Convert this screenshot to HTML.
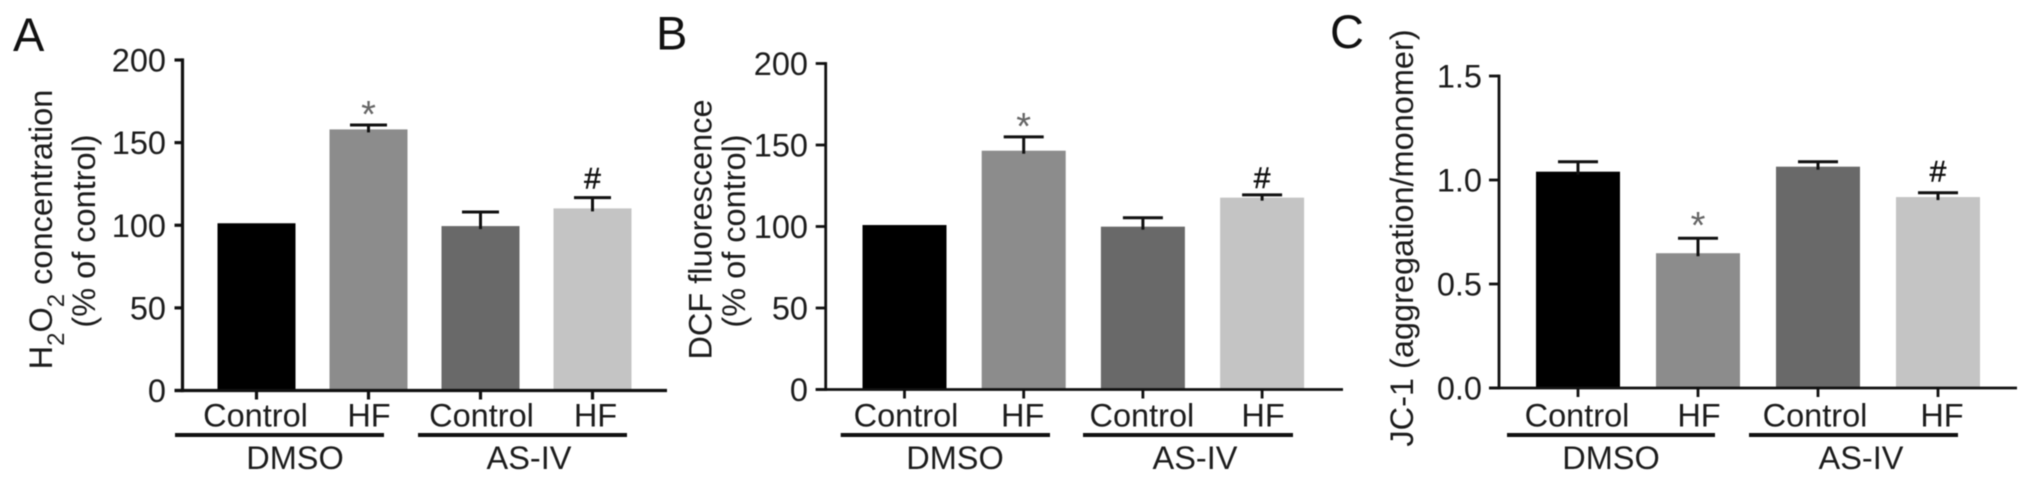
<!DOCTYPE html>
<html lang="en">
<head>
<meta charset="utf-8">
<title>H2O2, DCF fluorescence and JC-1 bar charts</title>
<style>
html,body{margin:0;padding:0;background:#fff;width:2032px;height:482px;overflow:hidden}
svg{display:block;filter:blur(0.55px)}
text{font-family:"Liberation Sans",Arial,sans-serif;fill:#1c1c1c}
.t{font-size:32.5px;text-anchor:middle}
.l{font-size:47px;fill:#111}
.s{font-size:24px}
</style>
</head>
<body>
<svg id="fig" xmlns="http://www.w3.org/2000/svg" width="2032" height="482" viewBox="0 0 2032 482">
  <rect width="2032" height="482" fill="#fff"/>
  <text class="l" x="13" y="51">A</text>
  <text class="l" x="656" y="49.5">B</text>
  <text class="l" x="1330" y="48">C</text>

  <text class="t" transform="translate(52 229.5) rotate(-90)">H<tspan class="s" dy="12">2</tspan><tspan dy="-12">O</tspan><tspan class="s" dy="12">2</tspan><tspan dy="-12"> concentration</tspan></text>
  <text class="t" transform="translate(95 231) rotate(-90)">(% of control)</text>
  <text class="t" transform="translate(711.5 229.5) rotate(-90)">DCF fluorescence</text>
  <text class="t" transform="translate(745 231) rotate(-90)">(% of control)</text>
  <text class="t" transform="translate(1413 238) rotate(-90)">JC-1 (aggregation/monomer)</text>

  <text class="t" x="295" y="469">DMSO</text>
  <text class="t" x="529" y="469">AS-IV</text>
  <text class="t" x="955" y="469">DMSO</text>
  <text class="t" x="1195" y="469">AS-IV</text>
  <text class="t" x="1611" y="469">DMSO</text>
  <text class="t" x="1861" y="469">AS-IV</text>
</svg>
<script>
// Chart data
var categories = ["Control", "HF", "Control", "HF"];
var barColors = ["#000000", "#8c8c8c", "#696969", "#c4c4c4"];

var ticksA = [0, 50, 100, 150, 200];
var tickLabelsA = ["0", "50", "100", "150", "200"];
var meansA = [101.2, 158, 99.5, 110.2];
var errorsA = [0, 2.7, 8.5, 6.5];
var marksA = ["", "*", "", "#"];

var ticksB = [0, 50, 100, 150, 200];
var tickLabelsB = ["0", "50", "100", "150", "200"];
var meansB = [100.9, 146.5, 99.9, 117.7];
var errorsB = [0, 8.5, 5.5, 1.7];
var marksB = ["", "*", "", "#"];

var ticksC = [0, 0.5, 1, 1.5];
var tickLabelsC = ["0.0", "0.5", "1.0", "1.5"];
var meansC = [1.04, 0.648, 1.064, 0.918];
var errorsC = [0.048, 0.072, 0.024, 0.021];
var marksC = ["", "*", "", "#"];

var NS = "http://www.w3.org/2000/svg";
var svg = document.getElementById("fig");

function make(tag, attrs, parent) {
  var node = document.createElementNS(NS, tag);
  for (var k in attrs) node.setAttribute(k, attrs[k]);
  parent.appendChild(node);
  return node;
}

function drawPanel(id, p, ticks, tickLabels, means, errors, marks) {
  var yScale = function (v) { return p.y0 + (p.y1 - p.y0) * (v - p.min) / (p.max - p.min); };
  var xScale = function (i) { return p.x0 + i * p.step; };

  var g = make("g", {}, svg);
  
  

  means.forEach(function (m, i) {
    var c = xScale(i);
    var top = yScale(m);
    var bar = make("rect", { x: c - p.barW / 2, y: top, width: p.barW, height: p.y0 - top, fill: barColors[i] }, g);
    
    

    if (errors[i] > 0) {
      var capY = yScale(m + errors[i]);
      var stem = make("line", { x1: c, x2: c, y1: capY, y2: top + 3, stroke: "#111", "stroke-width": 3 }, g);
      
      
      var cap = make("line", { x1: c - p.capW / 2, x2: c + p.capW / 2, y1: capY, y2: capY, stroke: "#111", "stroke-width": 3 }, g);
      
      
    }

    if (marks[i]) {
      var barTopY = yScale(m + errors[i]);
      var isStar = marks[i] === "*";
      var mark = make("text", {
        x: c,
        y: barTopY + (isStar ? p.starDy : p.hashDy),
        "text-anchor": "middle",
        style: isStar ? "font-size:38px;fill:#666" : "font-size:30px;fill:#111;stroke:#111;stroke-width:0.5px"
      }, g);
      mark.textContent = marks[i];
      
      
    }

    var tick = make("line", { x1: c, x2: c, y1: p.y0, y2: p.y0 + 9, stroke: "#111", "stroke-width": p.sw }, g);
    
    

    var lab = make("text", { x: c + p.nudge[i], y: 426.5, "class": "t" }, g);
    lab.textContent = categories[i];
    
    
  });

  var yAxis = make("line", { x1: p.ax, x2: p.ax, y1: p.y1 - p.sw / 2, y2: p.y0 + p.sw / 2, stroke: "#111", "stroke-width": p.sw }, g);
  
  

  var xAxis = make("line", { x1: p.ax - p.tickL, x2: p.xEnd, y1: p.y0, y2: p.y0, stroke: "#111", "stroke-width": p.sw }, g);
  
  

  ticks.forEach(function (t, i) {
    var y = yScale(t);
    var yt = make("line", { x1: p.ax - p.tickL, x2: p.ax, y1: y, y2: y, stroke: "#111", "stroke-width": p.sw }, g);
    
    
    var tl = make("text", { x: p.labelX, y: y + 11.5, "text-anchor": "end", style: "font-size:32.5px" }, g);
    tl.textContent = tickLabels[i];
    
    
  });

  var b1 = make("line", { x1: p.g1[0], x2: p.g1[1], y1: 435, y2: 435, stroke: "#111", "stroke-width": 4 }, g);
  
  
  var b2 = make("line", { x1: p.g2[0], x2: p.g2[1], y1: 435, y2: 435, stroke: "#111", "stroke-width": 4 }, g);
  
  
}

drawPanel("a", {
  ax: 182.5, y0: 390.5, y1: 60, min: 0, max: 200, x0: 256.5, step: 112, barW: 78, capW: 37, sw: 3.2, tickL: 8,
  xEnd: 667, labelX: 166, starDy: 2, hashDy: -9, nudge: [-1, 0.5, 1, 3], g1: [175, 384], g2: [418, 627]
}, ticksA, tickLabelsA, meansA, errorsA, marksA);

drawPanel("b", {
  ax: 825.7, y0: 389.5, y1: 63.5, min: 0, max: 200, x0: 904.5, step: 119.2, barW: 84, capW: 40, sw: 2.8, tickL: 10,
  xEnd: 1343, labelX: 808, starDy: 2, hashDy: -7, nudge: [1.5, -1, -1, 1], g1: [840.7, 1050], g2: [1083, 1293]
}, ticksB, tickLabelsB, meansB, errorsB, marksB);

drawPanel("c", {
  ax: 1499, y0: 388, y1: 76, min: 0, max: 1.5, x0: 1578, step: 120, barW: 84, capW: 40, sw: 2.8, tickL: 10,
  xEnd: 2017, labelX: 1482, starDy: 0, hashDy: -11, nudge: [-1, 1, -3, 4], g1: [1507, 1715], g2: [1749, 1958]
}, ticksC, tickLabelsC, meansC, errorsC, marksC);
</script>
</body>
</html>
